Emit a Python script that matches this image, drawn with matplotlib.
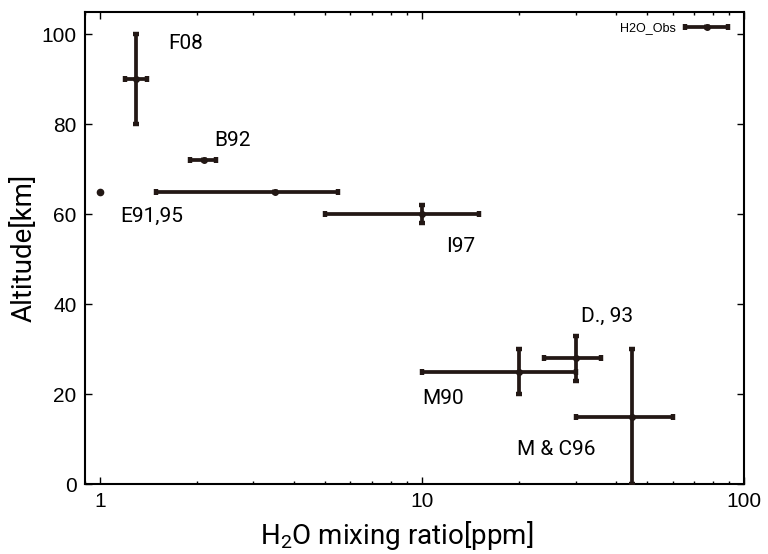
import numpy as np
import matplotlib
matplotlib.use('Agg')
import matplotlib.pyplot as plt
from matplotlib.container import ErrorbarContainer
from matplotlib.legend_handler import HandlerErrorbar

plt.rcParams['mathtext.fontset'] = 'custom'
plt.rcParams['mathtext.rm'] = 'Roboto'

# observations: centre value and error ranges
names = ['F08', 'B92', 'E91,95', 'E91,95', 'I97', 'M90', 'D., 93', 'M & C96']
h2o = np.array([1.3, 2.1, 1.0, 3.5, 10, 20, 30, 45])
h2o_lo = np.array([1.2, 1.9, 1.0, 1.5, 5, 10, 24, 30])
h2o_hi = np.array([1.4, 2.3, 1.0, 5.5, 15, 30, 36, 60])
alt = np.array([90, 72, 65, 65, 60, 25, 28, 15])
alt_lo = np.array([80, 72, 65, 65, 58, 20, 23, 0])
alt_hi = np.array([100, 72, 65, 65, 62, 30, 33, 30])

# where the name labels go (left edge, middle)
lab_names = ['F08', 'B92', 'E91,95', 'I97', 'D., 93', 'M90', 'M & C96']
lab_x = [1.63, 2.27, 1.16, 11.9, 31.2, 10, 19.8]
lab_y = [98, 76.4, 59.5, 52.7, 37.3, 19, 7.6]

col = '#231815'

fig = plt.figure(figsize=(7.68, 5.54), dpi=100)
ax = fig.add_axes([85/768, 1 - 484/554, 659/768, 472.3/554])

has_err = (h2o_lo != h2o_hi) | (alt_lo != alt_hi)
eb = ax.errorbar(h2o[has_err], alt[has_err],
                 xerr=[h2o[has_err] - h2o_lo[has_err], h2o_hi[has_err] - h2o[has_err]],
                 yerr=[alt[has_err] - alt_lo[has_err], alt_hi[has_err] - alt[has_err]],
                 fmt='o', ms=4, color=col, ecolor=col, elinewidth=2.7,
                 capsize=2.4, capthick=3.2, label='H2O_Obs', zorder=3)
ax.plot(h2o[~has_err], alt[~has_err], 'o', ms=4.5, color=col, zorder=3)

for n, lx, ly in zip(lab_names, lab_x, lab_y):
    ax.text(lx, ly, n, fontsize=15, family='Roboto', va='center', ha='left')

ax.set_xscale('log')
ax.set_xlim(0.9, 100)
ax.set_ylim(0, 105)
ax.set_xticks([1, 10, 100])
ax.set_xticklabels(['1', '10', '100'])
ax.set_yticks([0, 20, 40, 60, 80, 100])

for s in ax.spines.values():
    s.set_linewidth(1.5)
ax.tick_params(which='both', direction='in', top=True, right=True, width=1.0)
ax.tick_params(which='major', length=5, labelsize=15, pad=6)
ax.tick_params(which='minor', length=2.5)
for t in ax.get_xticklabels() + ax.get_yticklabels():
    t.set_family('Liberation Sans')

ax.set_xlabel('H$_2$O mixing ratio[ppm]', fontsize=20, family='Roboto', labelpad=3)
ax.xaxis.set_label_coords(0.473, -0.075, transform=ax.transAxes)
ax.xaxis.label.set_va('top')
ax.set_ylabel('Altitude[km]', fontsize=20, family='Roboto', labelpad=3)

ax.legend(handles=[eb], labels=['H2O_Obs'], loc='upper right',
          bbox_to_anchor=(0.9757, 0.978), borderaxespad=0, borderpad=0,
          frameon=False, markerfirst=False, handlelength=3.4, handletextpad=0.8,
          prop={'family': 'Liberation Sans', 'size': 9},
          handler_map={ErrorbarContainer: HandlerErrorbar(xerr_size=1.7, yerr_size=0)})

fig.savefig('out.png', dpi=100)
